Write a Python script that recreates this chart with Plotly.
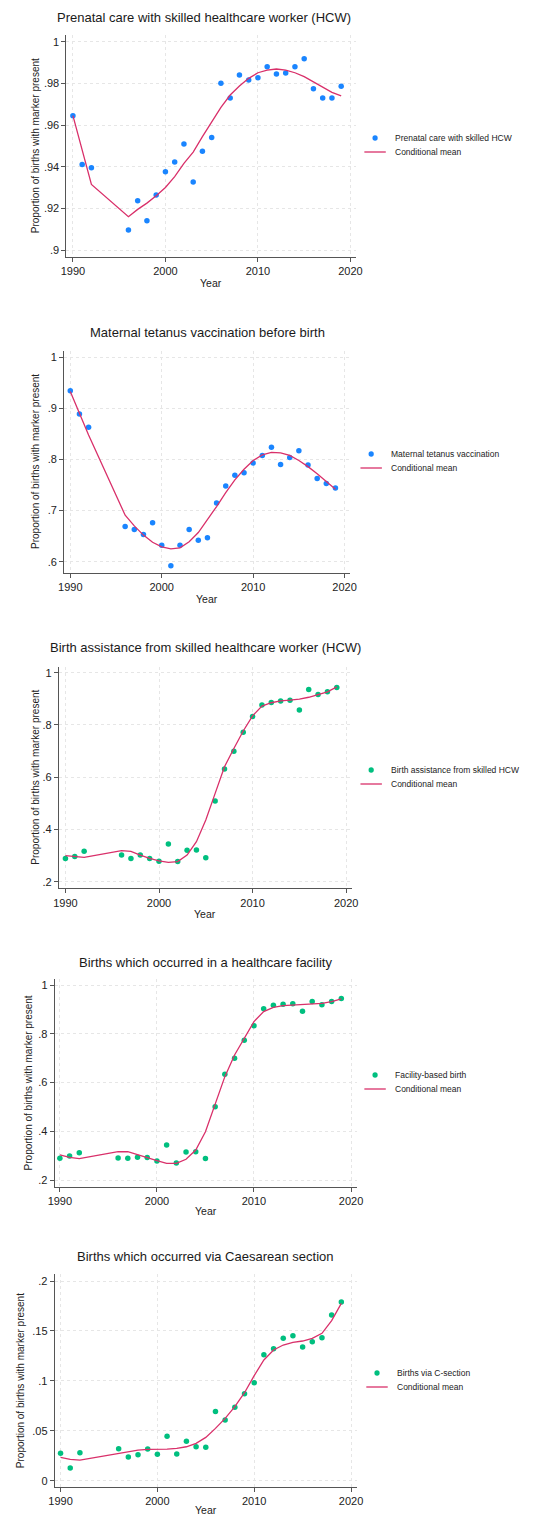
import plotly.graph_objects as go

W, H = 533, 1515

years = [1990, 1991, 1992, 1996, 1997, 1998, 1999, 2000, 2001, 2002, 2003, 2004, 2005,
         2006, 2007, 2008, 2009, 2010, 2011, 2012, 2013, 2014, 2015, 2016, 2017, 2018, 2019]

titles = [
    "Prenatal care with skilled healthcare worker (HCW)",
    "Maternal tetanus vaccination before birth",
    "Birth assistance from skilled healthcare worker (HCW)",
    "Births which occurred in a healthcare facility",
    "Births which occurred via Caesarean section",
]
series_names = [
    "Prenatal care with skilled HCW",
    "Maternal tetanus vaccination",
    "Birth assistance from skilled HCW",
    "Facility-based birth",
    "Births via C-section",
]
line_name = "Conditional mean"
x_title = "Year"
y_title = "Proportion of births with marker present"

prenatal_obs = [0.9645, 0.941, 0.9395, 0.9096, 0.9237, 0.914, 0.9264, 0.9376, 0.9422, 0.9509,
                0.9326, 0.9474, 0.954, 0.980, 0.973, 0.984, 0.9816, 0.9827, 0.988, 0.9845,
                0.985, 0.988, 0.9918, 0.9774, 0.973, 0.973, 0.9786]
prenatal_mean = [0.9645, 0.948, 0.9315, 0.916, 0.9195, 0.9225, 0.926, 0.930, 0.9352, 0.9416,
                 0.947, 0.9544, 0.9616, 0.9685, 0.9744, 0.9787, 0.9824, 0.9851, 0.9864, 0.9869,
                 0.9864, 0.9851, 0.9832, 0.9808, 0.978, 0.9757, 0.974]

tetanus_obs = [0.9347, 0.889, 0.863, 0.669, 0.663, 0.653, 0.676, 0.632, 0.592, 0.632, 0.663,
               0.642, 0.647, 0.715, 0.748, 0.769, 0.774, 0.793, 0.808, 0.824, 0.790, 0.804,
               0.817, 0.789, 0.763, 0.753, 0.744]
tetanus_mean = [0.933, 0.89, 0.848, 0.691, 0.670, 0.652, 0.638, 0.629, 0.625, 0.627, 0.639,
                0.657, 0.682, 0.708, 0.735, 0.760, 0.781, 0.798, 0.809, 0.814, 0.813, 0.808,
                0.798, 0.786, 0.772, 0.757, 0.742]

assist_obs = [0.289, 0.296, 0.317, 0.302, 0.289, 0.302, 0.289, 0.278, 0.344, 0.277, 0.320,
              0.321, 0.292, 0.509, 0.631, 0.699, 0.772, 0.832, 0.876, 0.886, 0.892, 0.895,
              0.857, 0.936, 0.917, 0.927, 0.943]
assist_mean = [0.2995, 0.296, 0.293, 0.319, 0.316, 0.302, 0.289, 0.280, 0.274, 0.277, 0.302,
               0.353, 0.436, 0.538, 0.640, 0.710, 0.777, 0.835, 0.872, 0.885, 0.892, 0.895,
               0.899, 0.906, 0.916, 0.927, 0.946]

facility_obs = [0.289, 0.298, 0.312, 0.290, 0.289, 0.293, 0.292, 0.278, 0.344, 0.270, 0.315,
                0.316, 0.288, 0.501, 0.634, 0.700, 0.773, 0.833, 0.903, 0.917, 0.921, 0.923,
                0.892, 0.932, 0.919, 0.932, 0.945]
facility_mean = [0.303, 0.293, 0.288, 0.316, 0.316, 0.303, 0.293, 0.279, 0.268, 0.268, 0.285,
                 0.323, 0.398, 0.508, 0.624, 0.713, 0.781, 0.850, 0.891, 0.908, 0.915, 0.918,
                 0.919, 0.921, 0.925, 0.932, 0.943]

csection_obs = [0.0274, 0.0127, 0.028, 0.032, 0.0237, 0.026, 0.0317, 0.0264, 0.0444, 0.0267,
                0.0394, 0.034, 0.0334, 0.0694, 0.0608, 0.0735, 0.0871, 0.0982, 0.1262, 0.1322,
                0.1426, 0.1452, 0.1339, 0.1392, 0.1432, 0.1659, 0.179]
csection_mean = [0.0234, 0.0214, 0.0207, 0.0274, 0.029, 0.0307, 0.0314, 0.0314, 0.0317, 0.0324,
                 0.034, 0.0374, 0.0434, 0.0524, 0.0624, 0.0741, 0.0881, 0.1052, 0.1209, 0.1309,
                 0.1359, 0.1386, 0.1399, 0.1426, 0.1476, 0.1603, 0.1776]

x_ticks = [1990, 2000, 2010, 2020]
x_ticklabels = ["1990", "2000", "2010", "2020"]
y_ticks = [
    [0.9, 0.92, 0.94, 0.96, 0.98, 1.0],
    [0.6, 0.7, 0.8, 0.9, 1.0],
    [0.2, 0.4, 0.6, 0.8, 1.0],
    [0.2, 0.4, 0.6, 0.8, 1.0],
    [0.0, 0.05, 0.1, 0.15, 0.2],
]
y_ticklabels = [
    [".9", ".92", ".94", ".96", ".98", "1"],
    [".6", ".7", ".8", ".9", "1"],
    [".2", ".4", ".6", ".8", "1"],
    [".2", ".4", ".6", ".8", "1"],
    ["0", ".05", ".1", ".15", ".2"],
]

obs_all = [prenatal_obs, tetanus_obs, assist_obs, facility_obs, csection_obs]
mean_all = [prenatal_mean, tetanus_mean, assist_mean, facility_mean, csection_mean]

BLUE = "#1A85FF"
GREEN = "#00BF7F"
PINK = "#D9306A"
dot_colors = [BLUE, BLUE, GREEN, GREEN, GREEN]

# ---- layout geometry (pixels) ----
# (x_left, x_right, px of 1990, px of 2020, y_bottom, y_top, tick value a, px a, tick value b, px b)
geom = [
    (61, 358, 67.7, 352.7, 257, 35, 1.0, 41.7, 0.9, 250),
    (58.7, 352.3, 65, 346.7, 572.7, 350.7, 1.0, 357.3, 0.6, 561.7),
    (53.3, 354.3, 60, 348.3, 888.3, 666.7, 1.0, 672.7, 0.2, 881.7),
    (49, 359, 54.3, 353.3, 1186.7, 979.3, 1.0, 985, 0.2, 1180),
    (49, 359.3, 55, 353.3, 1486.7, 1274.3, 0.2, 1281, 0.0, 1480.7),
]
title_pos = [(202, 17), (206, 332), (204, 648), (204, 962), (204, 1256)]
ytitle_x = [29, 29, 29, 22, 14]
xtitle_y = [283, 599, 914, 1211, 1510]
legend_pos = [(378, 138), (374, 454), (374, 770), (378, 1075), (380, 1373)]


def lin_range(p_lo, p_hi, v1, p1, v2, p2):
    s = (v2 - v1) / (p2 - p1)
    return [v1 + (p_lo - p1) * s, v1 + (p_hi - p1) * s]


fig = go.Figure()
FONT = "Liberation Sans, Arial, Helvetica, sans-serif"
annotations = []
shapes = []

for i in range(5):
    xl, xr, p90, p20, yb, yt, va, pa, vb, pb = geom[i]
    ax = "" if i == 0 else str(i + 1)
    xref = "x" + ax
    yref = "y" + ax
    xr_rng = lin_range(xl, xr, 1990, p90, 2020, p20)
    yr_rng = lin_range(yb, yt, va, pa, vb, pb)

    axis_common = dict(
        showline=True, linecolor="#555555", linewidth=1,
        ticks="outside", ticklen=4, tickcolor="#555555", tickwidth=1,
        showgrid=True, gridcolor="#E6E6E6", griddash="dot", gridwidth=1,
        zeroline=False, tickfont=dict(family=FONT, size=11, color="#222222"),
        fixedrange=True,
    )
    fig.layout["xaxis" + ax] = dict(
        axis_common, domain=[xl / W, xr / W], range=xr_rng, anchor=yref,
        tickvals=x_ticks, ticktext=x_ticklabels,
    )
    fig.layout["yaxis" + ax] = dict(
        axis_common, domain=[1 - yb / H, 1 - yt / H], range=yr_rng, anchor=xref,
        tickvals=y_ticks[i], ticktext=y_ticklabels[i], tickangle=0,
    )

    fig.add_trace(go.Scatter(
        x=years, y=obs_all[i], mode="markers", xaxis=xref, yaxis=yref,
        marker=dict(color=dot_colors[i], size=5.5, line=dict(width=0)),
        showlegend=False, hoverinfo="x+y",
    ))
    fig.add_trace(go.Scatter(
        x=years, y=mean_all[i], mode="lines", xaxis=xref, yaxis=yref,
        line=dict(color=PINK, width=1.3, shape="linear"),
        showlegend=False, hoverinfo="x+y",
    ))

    tx, ty = title_pos[i]
    annotations.append(dict(
        text=titles[i], x=tx / W, y=1 - ty / H, xref="paper", yref="paper",
        xanchor="center", yanchor="middle", showarrow=False,
        font=dict(family=FONT, size=13, color="#1a1a1a"),
    ))
    annotations.append(dict(
        text=y_title, x=ytitle_x[i] / W, y=1 - ((yb + yt) / 2) / H, xref="paper", yref="paper",
        xanchor="center", yanchor="middle", showarrow=False, textangle=-90,
        font=dict(family=FONT, size=10, color="#222222"),
    ))
    annotations.append(dict(
        text=x_title, x=((xl + xr) / 2) / W, y=1 - xtitle_y[i] / H, xref="paper", yref="paper",
        xanchor="center", yanchor="middle", showarrow=False,
        font=dict(family=FONT, size=10.5, color="#222222"),
    ))

    # legend (drawn manually)
    lx, ly = legend_pos[i]
    shapes.append(dict(
        type="circle", xref="paper", yref="paper",
        x0=(lx - 2.7) / W, x1=(lx + 2.7) / W, y0=1 - (ly + 2.7) / H, y1=1 - (ly - 2.7) / H,
        fillcolor=dot_colors[i], line=dict(width=0),
    ))
    shapes.append(dict(
        type="line", xref="paper", yref="paper",
        x0=(lx - 11) / W, x1=(lx + 11) / W, y0=1 - (ly + 14) / H, y1=1 - (ly + 14) / H,
        line=dict(color=PINK, width=1.3),
    ))
    annotations.append(dict(
        text=series_names[i], x=(lx + 18) / W, y=1 - ly / H, xref="paper", yref="paper",
        xanchor="left", yanchor="middle", showarrow=False,
        font=dict(family=FONT, size=8.5, color="#222222"),
    ))
    annotations.append(dict(
        text=line_name, x=(lx + 18) / W, y=1 - (ly + 14) / H, xref="paper", yref="paper",
        xanchor="left", yanchor="middle", showarrow=False,
        font=dict(family=FONT, size=8.5, color="#222222"),
    ))

fig.update_layout(
    width=W, height=H, margin=dict(l=0, r=0, t=0, b=0),
    paper_bgcolor="white", plot_bgcolor="white",
    showlegend=False, annotations=annotations, shapes=shapes,
)

fig.write_html(
    "out.html",
    config={"displayModeBar": False},
    post_script="document.body.style.margin='0';document.body.style.overflow='hidden';",
)
